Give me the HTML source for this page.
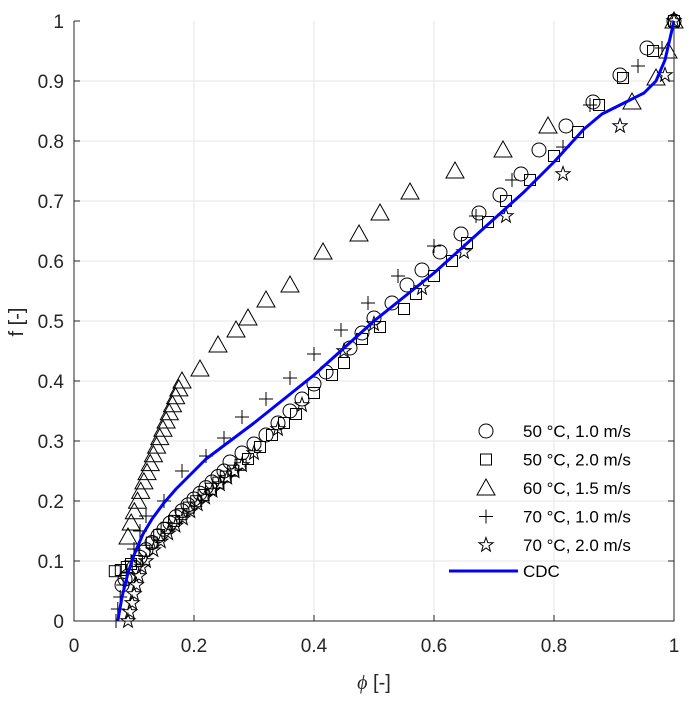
<!DOCTYPE html>
<html><head><meta charset="utf-8"><style>body{margin:0;background:#fff}svg{display:block}</style></head>
<body>
<svg id="s" width="689" height="702" xmlns="http://www.w3.org/2000/svg" font-family="Liberation Sans, sans-serif">
<rect width="689" height="702" fill="#fff"/>
<g id="grid" stroke="#e6e6e6" stroke-width="1"></g>
<g id="data" fill="none" stroke="#000" stroke-width="1"></g>
<g id="axes" stroke="#262626" stroke-width="1" fill="none"></g>
<g id="labels" fill="#262626" font-size="19"></g>
<text x="374" y="689" font-size="20" fill="#262626" text-anchor="middle"><tspan font-style="italic" font-family="Liberation Serif, serif">ϕ</tspan> [-]</text>
<text x="0" y="0" font-size="20" fill="#262626" text-anchor="middle" transform="translate(23,322) rotate(-90)">f [-]</text>
<g id="legend" font-size="17" fill="#000"></g>
</svg>
<script>
const NS="http://www.w3.org/2000/svg";
const X=v=>74+600*v, Y=v=>621-600*v;
function el(p,t,a,txt){const e=document.createElementNS(NS,t);for(const k in a)e.setAttribute(k,a[k]);if(txt!==undefined)e.textContent=txt;document.getElementById(p).appendChild(e);return e;}
for(let i=0;i<=10;i++){const v=i/10;
 if(i%2==0&&i>0&&i<10) el('grid','line',{x1:X(v),x2:X(v),y1:21,y2:621});
 if(i>0&&i<10) el('grid','line',{x1:74,x2:674,y1:Y(v),y2:Y(v)});
 el('labels','text',{x:64,y:Y(v)+7,'text-anchor':'end'},i==0?'0':i==10?'1':(v).toFixed(1));
 el('axes','line',{x1:74,x2:80,y1:Y(v),y2:Y(v)});
 el('axes','line',{x1:674,x2:668,y1:Y(v),y2:Y(v)});
}
for(let i=0;i<=5;i++){const v=i/5;
 el('labels','text',{x:X(v),y:652,'text-anchor':'middle'},i==0?'0':i==5?'1':v.toFixed(1));
 el('axes','line',{x1:X(v),x2:X(v),y1:621,y2:615});
}
el('axes','path',{d:'M74,21V621H674V21'});
function dense(x0,y0,x1,y1,n){const r=[];for(let i=0;i<n;i++){const t=i/(n-1);r.push([x0+(x1-x0)*t,y0+(y1-y0)*Math.pow(t,0.85)]);}return r;}
const circ=[[0.08,0.06],[0.085,0.07],[0.09,0.075],...dense(0.1,0.09,0.25,0.25,16),[0.26,0.265],[0.28,0.28],[0.3,0.295],[0.32,0.31],[0.34,0.33],[0.36,0.35],[0.38,0.37],[0.4,0.395],[0.42,0.415],[0.46,0.455],[0.48,0.48],[0.5,0.505],[0.53,0.53],[0.555,0.56],[0.58,0.585],[0.61,0.615],[0.645,0.645],[0.675,0.68],[0.71,0.71],[0.745,0.745],[0.775,0.785],[0.82,0.825],[0.865,0.865],[0.91,0.91],[0.955,0.955],[1,1]];
const sq=[[0.068,0.083],[0.078,0.085],[0.088,0.09],[0.095,0.095],...dense(0.105,0.1,0.29,0.27,16),[0.31,0.29],[0.33,0.31],[0.35,0.33],[0.37,0.345],[0.4,0.38],[0.43,0.41],[0.45,0.43],[0.48,0.47],[0.51,0.49],[0.55,0.52],[0.57,0.545],[0.6,0.575],[0.63,0.6],[0.655,0.63],[0.69,0.665],[0.72,0.7],[0.76,0.735],[0.8,0.775],[0.84,0.815],[0.875,0.86],[0.915,0.905],[0.965,0.95],[1,1]];
const tri=[...dense(0.09,0.14,0.18,0.40,18),[0.21,0.42],[0.24,0.46],[0.27,0.485],[0.29,0.505],[0.32,0.535],[0.36,0.56],[0.415,0.615],[0.475,0.645],[0.51,0.68],[0.56,0.715],[0.635,0.75],[0.715,0.785],[0.79,0.825],[0.93,0.865],[0.97,0.905],[0.99,0.95],[1,1]];
const plus=[[0.07,0.0],[0.073,0.02],[0.077,0.04],[0.082,0.06],[0.088,0.08],[0.095,0.1],[0.1,0.12],[0.11,0.15],[0.12,0.175],[0.15,0.2],[0.18,0.25],[0.22,0.275],[0.25,0.305],[0.28,0.34],[0.32,0.37],[0.36,0.405],[0.4,0.445],[0.445,0.485],[0.49,0.53],[0.54,0.575],[0.6,0.625],[0.67,0.675],[0.73,0.735],[0.815,0.79],[0.86,0.86],[0.94,0.925],[0.98,0.955]];
const star=[[0.09,0.0],[0.093,0.015],[0.097,0.03],[0.1,0.045],[0.104,0.06],[0.108,0.075],[0.113,0.09],...dense(0.12,0.1,0.28,0.26,14),[0.3,0.28],[0.34,0.32],[0.38,0.36],[0.45,0.45],[0.5,0.495],[0.58,0.555],[0.65,0.615],[0.72,0.675],[0.815,0.745],[0.91,0.825],[0.985,0.91],[1,1]];
const M={
 c:(x,y)=>el('data','circle',{cx:x,cy:y,r:7}),
 s:(x,y)=>el('data','rect',{x:x-5.5,y:y-5.5,width:11,height:11}),
 t:(x,y)=>el('data','path',{d:`M${x},${y-9}L${x+9},${y+7}L${x-9},${y+7}Z`}),
 p:(x,y)=>el('data','path',{d:`M${x-7},${y}H${x+7}M${x},${y-7}V${y+7}`}),
 st:(x,y)=>{let d='';for(let i=0;i<10;i++){const r=i%2?3:7.5,a=-Math.PI/2+i*Math.PI/5;d+=(i?'L':'M')+(x+r*Math.cos(a)).toFixed(1)+','+(y+r*Math.sin(a)).toFixed(1);}el('data','path',{d:d+'Z'});}
};
tri.forEach(p=>M.t(X(p[0]),Y(p[1])));
sq.forEach(p=>M.s(X(p[0]),Y(p[1])));
circ.forEach(p=>M.c(X(p[0]),Y(p[1])));
star.forEach(p=>M.st(X(p[0]),Y(p[1])));
plus.forEach(p=>M.p(X(p[0]),Y(p[1])));
const cdc=[[0.073,0],[0.08,0.04],[0.09,0.08],[0.1,0.11],[0.115,0.145],[0.13,0.17],[0.15,0.197],[0.17,0.22],[0.2,0.25],[0.22,0.27],[0.26,0.3],[0.3,0.33],[0.35,0.37],[0.4,0.41],[0.45,0.455],[0.5,0.5],[0.55,0.54],[0.6,0.58],[0.65,0.625],[0.7,0.67],[0.75,0.715],[0.8,0.765],[0.85,0.82],[0.88,0.845],[0.92,0.865],[0.95,0.88],[0.97,0.9],[0.985,0.935],[1,1]];
let d='';for(let i=0;i<cdc.length;i++){d+=(i?'L':'M')+X(cdc[i][0]).toFixed(1)+','+Y(cdc[i][1]).toFixed(1);}
el('data','path',{d,stroke:'#0000ff','stroke-width':3,'stroke-linejoin':'round'});
const L=[['c','50 °C, 1.0 m/s'],['s','50 °C, 2.0 m/s'],['t','60 °C, 1.5 m/s'],['p','70 °C, 1.0 m/s'],['st','70 °C, 2.0 m/s']];
L.forEach((l,i)=>{const y=431+i*28.5;M[l[0]](486,y);el('legend','text',{x:523,y:y+6},l[1]);});
el('legend','line',{x1:449,x2:518,y1:571,y2:571,stroke:'#0000ff','stroke-width':3});
el('legend','text',{x:523,y:577},'CDC');
</script>
</body></html>
